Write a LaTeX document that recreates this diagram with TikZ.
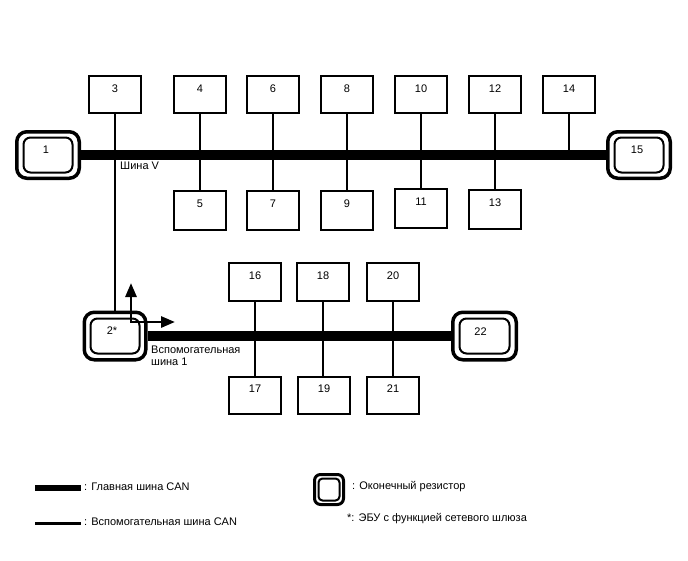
\documentclass[tikz,border=0pt]{standalone}
\usepackage{fontspec}
\setmainfont{Liberation Sans}
\usetikzlibrary{arrows.meta,calc}
\begin{document}
\begin{tikzpicture}[x=1pt,y=-1pt,
  box/.style={draw, line width=2.2pt, minimum width=52pt, minimum height=37pt, inner sep=0pt},
  lbox/.style={box, minimum height=39pt},
  num/.style={font=\fontsize{11}{13}\selectfont, inner sep=0pt},
  txt/.style={font=\fontsize{11}{12.5}\selectfont, inner sep=0pt, anchor=west, align=left},
  tout/.style={draw, line width=3.5pt, rounded corners=10pt, minimum width=62.5pt, minimum height=46.5pt, inner sep=0pt},
  tin/.style={draw, line width=2pt, rounded corners=7pt, minimum width=49pt, minimum height=35pt, inner sep=0pt},
  conn/.style={line width=2.8pt},
  busline/.style={line width=10pt},
  arr/.style={line width=2.8pt, {Triangle[length=14pt,width=11pt]}-{Triangle[length=14pt,width=11pt]}}
]
\useasboundingbox (0,0) rectangle (688,560);

% main bus terminals
\node[tout] (t1) at (48,155) {};
\node[tin] (t1i) at (t1.center) {};
\node[num] (n1) at ([xshift=-2pt,yshift=5pt]t1.center) {1};
\node[tout] (t15) at (639,155) {};
\node[tin] (t15i) at (t15.center) {};
\node[num] (n15) at ([xshift=-2pt,yshift=5pt]t15.center) {15};

% top row boxes
\foreach \n/\x in {3/115,4/200,6/273,8/347,10/421,12/495,14/569}{
  \node[box] (b\n) at (\x,94.5) {};
  \node[num] (n\n) at ([yshift=-14pt]b\n.north) {\n};
}
% lower row boxes
\foreach \n/\x/\y in {5/200/210.5,7/273/210.5,9/347/210.5,11/421/208.5,13/495/209.5}{
  \node[lbox] (b\n) at (\x,\y) {};
  \node[num] (n\n) at ([yshift=-14pt]b\n.north) {\n};
}

% main bus
\draw[busline] (t1.east) -- (t15.west);
\node[txt] (lv) at (120,166) {Шина V};

% sub bus terminals
\node[tout, minimum width=61.5pt, minimum height=47.5pt] (t2) at (115,336) {};
\node[tin] (t2i) at (t2.center) {};
\node[num] (n2) at ([xshift=-3pt,yshift=5pt]t2.center) {2*};
\node[tout, minimum width=63.5pt, minimum height=47.5pt] (t22) at (484.5,336) {};
\node[tin, minimum width=50pt] (t22i) at (t22.center) {};
\node[num] (n22) at ([xshift=-4pt,yshift=4pt]t22.center) {22};

% connectors main
\draw[conn] (b3.south) -- (b3.south |- t2.north);
\foreach \a/\b in {4/5,6/7,8/9,10/11,12/13}{
  \draw[conn] (b\a.south) -- (b\b.north);
}
\draw[conn] (b14.south) -- (b14.south |- t15.west);

% sub boxes
\foreach \n/\x in {16/255,18/323,20/393}{
  \node[box, minimum height=38pt] (b\n) at (\x,282) {};
  \node[num] (n\n) at ([yshift=-14pt]b\n.north) {\n};
}
\foreach \n/\x in {17/255,19/324,21/393}{
  \node[box] (b\n) at (\x,395.5) {};
  \node[num] (n\n) at ([yshift=-13pt]b\n.north) {\n};
}
\draw[conn] (b16.south) -- (b17.north -| b16.south);
\draw[conn] (b18.south) -- (b19.north -| b18.south);
\draw[conn] (b20.south) -- (b21.north -| b20.south);

% sub bus
\draw[busline] (t2.east) -- (t22.west);
\node[txt] (ls) at (151,356) {Вспомогательная\\шина 1};

% gateway arrows
\coordinate (ac) at (131,322);
\coordinate (au) at (131,283);
\coordinate (ar) at (175,322);
\draw[arr] (au) -- (ac) -- (ar);

% legend
\coordinate (lg1a) at (35,488);
\coordinate (lg1b) at (81,488);
\draw[line width=6pt] (lg1a) -- (lg1b);
\node[txt] (lgt1) at (84,487) {: Главная шина CAN};
\coordinate (lg2a) at (35,523);
\coordinate (lg2b) at (81,523);
\draw[line width=3pt] (lg2a) -- (lg2b);
\node[txt] (lgt2) at (84,522) {: Вспомогательная шина CAN};

\node[draw, line width=3pt, rounded corners=6pt, minimum width=29pt, minimum height=30pt, inner sep=0pt] (lgt) at (329,489.5) {};
\node[draw, line width=2pt, rounded corners=4pt, minimum width=21pt, minimum height=22pt, inner sep=0pt] (lgti) at (lgt.center) {};
\node[txt] (lgt3) at (352,487) {: Оконечный резистор};
\node[txt] (lgt4) at (347,519) {*: ЭБУ с функцией сетевого шлюза};
\end{tikzpicture}
\end{document}
